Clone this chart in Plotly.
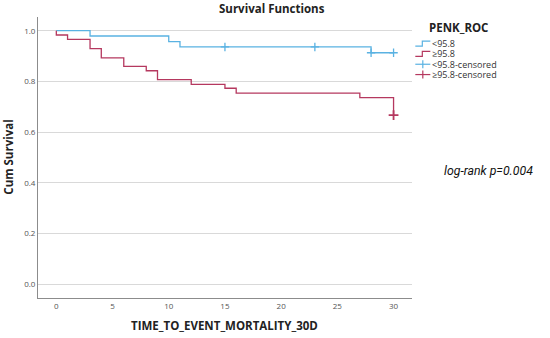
import plotly.graph_objects as go

# ---- data ----
blue_times = [0, 3, 10, 11, 28, 30]
blue_surv = [1.0, 0.979, 0.957, 0.936, 0.913, 0.913]
blue_cens_times = [15, 23, 28, 30]
blue_cens_surv = [0.936, 0.936, 0.913, 0.913]

red_times = [0, 0, 1, 3, 4, 6, 8, 9, 12, 15, 16, 27, 30]
red_surv = [1.0, 0.983, 0.966, 0.929, 0.893, 0.859, 0.842, 0.807, 0.788, 0.773, 0.754, 0.736, 0.667]
red_cens_times = [30]
red_cens_surv = [0.667]

legend_labels = ["<95.8", "\u226595.8", "<95.8-censored", "\u226595.8-censored"]
x_ticks = [0, 5, 10, 15, 20, 25, 30]
y_ticks = [0.0, 0.2, 0.4, 0.6, 0.8, 1.0]

BLUE = "#5ab2e2"
RED = "#b5385f"
FONT = "Open Sans"

W, H = 550, 338
L, R, T, B = 38, 411.7, 17, 297.7  # plot area in page pixels


def px(x):
    return (x - L) / (R - L)


def py(y):
    return (B - y) / (B - T)


fig = go.Figure()
fig.add_trace(go.Scatter(x=blue_times, y=blue_surv, mode="lines", line_shape="hv",
                         line=dict(color=BLUE, width=1.3), showlegend=False))
fig.add_trace(go.Scatter(x=red_times, y=red_surv, mode="lines", line_shape="hv",
                         line=dict(color=RED, width=1.3), showlegend=False))
fig.add_trace(go.Scatter(x=blue_cens_times, y=blue_cens_surv, mode="markers",
                         marker=dict(symbol="cross-thin", size=6, line=dict(color=BLUE, width=1.3)),
                         showlegend=False))
fig.add_trace(go.Scatter(x=red_cens_times, y=red_cens_surv, mode="markers",
                         marker=dict(symbol="cross-thin", size=7, line=dict(color=RED, width=1.8)),
                         showlegend=False))

shapes = []
annotations = []
# custom legend
legend_colors = [BLUE, RED, BLUE, RED]
rows_y = [43.5, 53.8, 64.2, 74.5]
for i, (lab, col, cy) in enumerate(zip(legend_labels, legend_colors, rows_y)):
    if i < 2:
        path = "M {} {} L {} {} L {} {} L {} {}".format(
            px(415), py(cy + 2.5), px(422), py(cy + 2.5), px(422), py(cy - 2.5), px(430), py(cy - 2.5))
        shapes.append(dict(type="path", xref="paper", yref="paper", path=path,
                           line=dict(color=col, width=1.2)))
    else:
        shapes.append(dict(type="line", xref="paper", yref="paper", x0=px(415), x1=px(430),
                           y0=py(cy), y1=py(cy), line=dict(color=col, width=1.2)))
        shapes.append(dict(type="line", xref="paper", yref="paper", x0=px(422.5), x1=px(422.5),
                           y0=py(cy - 4), y1=py(cy + 4), line=dict(color=col, width=1.2)))
    annotations.append(dict(x=px(431), y=py(cy), xref="paper", yref="paper", text=lab,
                            showarrow=False, xanchor="left", yanchor="middle", borderpad=0,
                            font=dict(family=FONT, size=9, color="#333333")))

annotations.append(dict(x=px(427), y=py(27), xref="paper", yref="paper", text="<b>PENK_ROC</b>",
                        showarrow=False, xanchor="left", yanchor="middle",
                        font=dict(family=FONT, size=11.5, color="#222222")))
annotations.append(dict(x=px(272), y=py(8.5), xref="paper", yref="paper", text="<b>Survival Functions</b>",
                        showarrow=False, xanchor="center", yanchor="middle",
                        font=dict(family=FONT, size=11.5, color="#222222")))
annotations.append(dict(x=px(488.5), y=py(170.5), xref="paper", yref="paper", text="<i>log-rank p=0.004</i>",
                        showarrow=False, xanchor="center", yanchor="middle",
                        font=dict(family="Roboto", size=12.3, color="#111111")))
annotations.append(dict(x=px(224.7), y=py(325.5), xref="paper", yref="paper",
                        text="<b>TIME_TO_EVENT_MORTALITY_30D</b>",
                        showarrow=False, xanchor="center", yanchor="middle",
                        font=dict(family=FONT, size=11.5, color="#222222")))
annotations.append(dict(x=px(8.5), y=py(157), xref="paper", yref="paper",
                        text="<b>Cum Survival</b>", textangle=-90,
                        showarrow=False, xanchor="center", yanchor="middle",
                        font=dict(family=FONT, size=11.5, color="#222222")))

fig.update_layout(
    width=W, height=H,
    margin=dict(l=L, r=W - R, t=T, b=H - B),
    paper_bgcolor="white", plot_bgcolor="white",
    shapes=shapes, annotations=annotations,
    xaxis=dict(range=[-1.63, 31.64], tickvals=x_ticks, showgrid=False, zeroline=False,
               showline=True, linecolor="#8c8c8c", linewidth=1, ticks="", ticklen=0,
               tickfont=dict(family=FONT, size=8, color="#555555")),
    yaxis=dict(range=[-0.054, 1.054], tickvals=y_ticks, tickformat=".1f", showgrid=True,
               gridcolor="#d9d9d9", gridwidth=1, zeroline=False,
               showline=True, linecolor="#8c8c8c", linewidth=1, ticks="",
               tickfont=dict(family=FONT, size=8, color="#555555")),
)

fig.write_html("out.html", config={"displayModeBar": False},
               post_script="document.body.style.margin='0';document.body.style.overflow='hidden';")
